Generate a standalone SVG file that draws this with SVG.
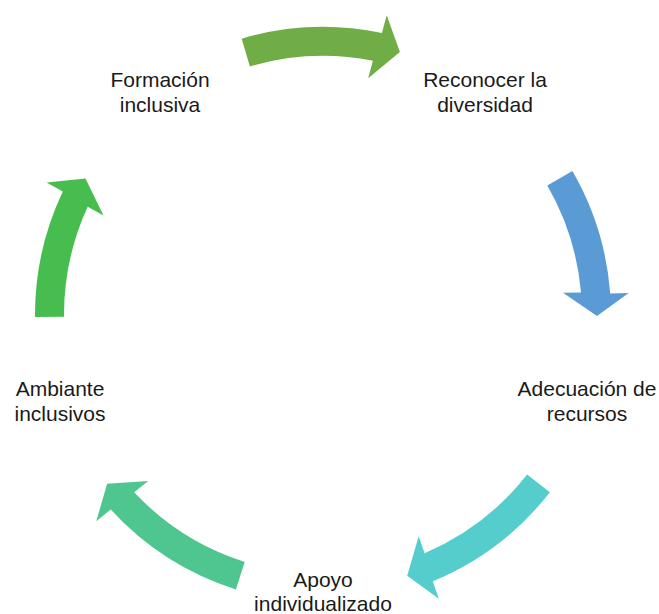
<svg xmlns="http://www.w3.org/2000/svg" width="659" height="614" viewBox="0 0 659 614">
<style>
text{font-family:"Liberation Sans",Arial,sans-serif;font-size:21px;fill:#1a1a1a;text-anchor:middle}
.arr{stroke:none}
</style>
<rect width="659" height="614" fill="#ffffff"/>
<g id="connectors">
<path class="arr" fill="#70AD47" d="M241.7,38.7 A288,288 0 0 1 381.9,33.1 L386.7,15.2 L399.9,52.0 L368.2,78.3 L372.9,60.8 A259,259 0 0 0 249.9,66.5 Z"/>
<path class="arr" fill="#5B9BD5" d="M572.4,171 A288,288 0 0 1 610.2,293.4 L628.7,293.1 L597,316.0 L563.0,292.7 L581.0,292.4 A259,259 0 0 0 547.3,185.5 Z"/>
<path class="arr" fill="#55CDCC" d="M549.9,492.3 A288,288 0 0 1 432.8,581.3 L438.8,598.8 L407.2,575.7 L418.7,536.2 L424.6,553.2 A259,259 0 0 0 527.1,474.5 Z"/>
<path class="arr" fill="#4FC68F" d="M235.9,589.5 A288,288 0 0 1 110.7,509.6 L96.3,521.3 L107.1,483.7 L148.2,480.9 L134.2,492.3 A259,259 0 0 0 244.7,561.9 Z"/>
<path class="arr" fill="#48BD4F" d="M35.0,317.0 A288,288 0 0 1 62.8,191.5 L46.6,182.6 L85.5,178.4 L103.5,215.4 L87.7,206.8 A259,259 0 0 0 64.0,316.8 Z"/>
</g>
<g id="node1"><text x="160" y="87">Formación</text><text x="160" y="112">inclusiva</text></g>
<g id="node2"><text x="485" y="87">Reconocer la</text><text x="485" y="112">diversidad</text></g>
<g id="node3"><text x="587" y="396">Adecuación de</text><text x="587" y="421">recursos</text></g>
<g id="node4"><text x="323" y="587">Apoyo</text><text x="323" y="611">individualizado</text></g>
<g id="node5"><text x="60" y="396">Ambiante</text><text x="60" y="421">inclusivos</text></g>
</svg>
